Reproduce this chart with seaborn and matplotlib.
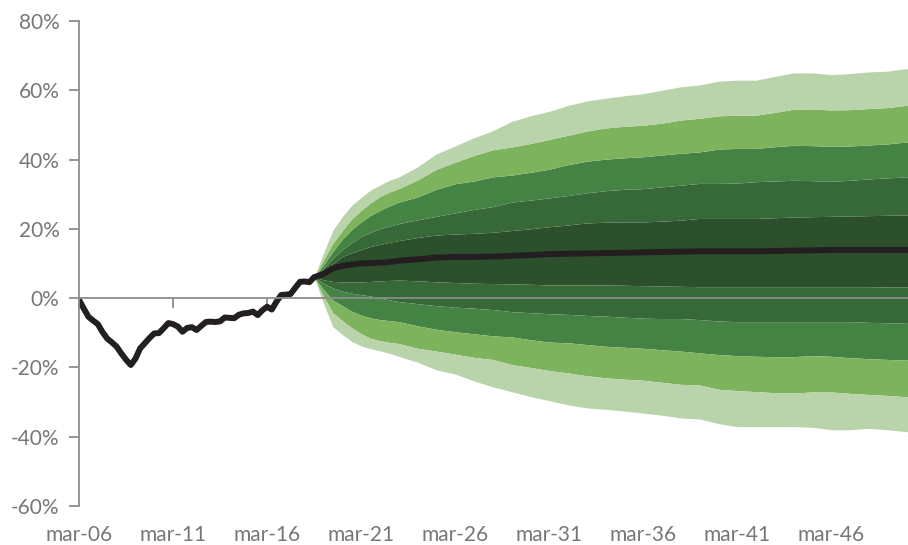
import matplotlib
matplotlib.use("Agg")
import matplotlib.pyplot as plt
import seaborn as sns
import pandas as pd

# historical series, quarterly from mar-06 (%)
hist_start = "2006-03-01"
hist_values = [-0.5, -3.0, -5.4, -6.5, -7.5, -9.8, -11.7, -12.8, -14.0, -16.0,
               -17.8, -19.3, -17.5, -14.5, -13.0, -11.5, -10.2, -10.1, -8.7, -7.2,
               -7.5, -8.2, -9.7, -8.6, -8.4, -9.2, -8.0, -6.9, -6.8, -6.9,
               -6.7, -5.6, -5.7, -5.8, -4.8, -4.4, -4.3, -3.9, -4.9, -3.5,
               -2.5, -3.3, -1.0, 0.9, 1.0, 1.2, 3.0, 4.7, 4.8, 4.6, 6.0]

# forecast dates
fc_dates = ["2018-09", "2019-03", "2019-09", "2020-03", "2020-09", "2021-03",
            "2021-09", "2022-03", "2022-09", "2023-03", "2024-03", "2025-03",
            "2026-03", "2027-03", "2028-03", "2029-03", "2030-03", "2031-03",
            "2032-03", "2033-03", "2034-03", "2035-03", "2036-03", "2037-03",
            "2038-03", "2039-03", "2040-03", "2041-03", "2042-03", "2043-03",
            "2044-03", "2045-03", "2046-03", "2047-03", "2048-03", "2049-03",
            "2050-04"]

median = [6.0, 7.0, 8.6, 9.3, 9.7, 10.0, 10.1, 10.2, 10.4, 10.8, 11.2, 11.7,
          11.9, 11.9, 12.0, 12.2, 12.4, 12.7, 12.8, 12.9, 13.0, 13.1, 13.2, 13.3,
          13.4, 13.5, 13.5, 13.5, 13.5, 13.6, 13.7, 13.8, 13.9, 13.9, 13.9, 13.9,
          13.9]

# upper bounds (inner -> outer)
up0 = [6.0, 7.8, 10.0, 12.0, 13.1, 14.0, 14.9, 15.5, 16.1, 16.6, 17.5, 18.2,
       18.5, 18.7, 19.0, 19.5, 20.0, 20.6, 21.1, 21.7, 21.9, 22.0, 22.0, 22.2,
       22.5, 23.0, 23.0, 23.0, 23.0, 23.2, 23.4, 23.5, 23.6, 23.7, 23.8, 23.9,
       24.0]
up1 = [6.0, 8.5, 11.5, 14.0, 16.0, 17.8, 19.0, 20.0, 20.8, 21.5, 22.6, 23.6,
       24.6, 25.6, 26.4, 27.7, 28.3, 28.9, 29.6, 30.4, 31.0, 31.4, 31.6, 32.1,
       32.6, 33.1, 33.1, 33.2, 33.6, 33.8, 34.0, 33.9, 33.7, 34.0, 34.4, 34.7,
       35.0]
up2 = [6.0, 9.5, 13.5, 17.0, 19.8, 22.0, 23.9, 25.3, 26.6, 27.7, 29.2, 31.4,
       33.0, 33.8, 35.0, 35.5, 36.3, 37.2, 38.5, 39.5, 40.1, 40.5, 40.8, 41.3,
       41.8, 42.2, 43.0, 43.2, 43.2, 43.7, 44.1, 44.0, 43.8, 43.9, 44.2, 44.5,
       45.1]
up3 = [6.0, 11.0, 15.9, 19.5, 22.9, 25.3, 27.5, 29.3, 30.6, 31.6, 34.1, 37.2,
       39.2, 41.2, 42.8, 43.6, 44.6, 45.8, 47.0, 48.2, 49.1, 49.6, 49.9, 50.5,
       51.4, 51.9, 52.6, 52.8, 52.8, 53.6, 54.5, 54.6, 54.3, 54.4, 54.7, 55.0,
       55.7]
up4 = [6.0, 13.0, 19.6, 23.5, 26.8, 29.0, 31.2, 32.6, 34.0, 34.9, 37.9, 41.6,
       43.9, 46.3, 48.3, 51.0, 52.6, 53.9, 55.6, 56.9, 57.7, 58.4, 59.0, 60.0,
       61.0, 61.5, 62.6, 62.9, 62.9, 64.0, 65.0, 65.0, 64.5, 64.8, 65.3, 65.5,
       66.3]

# lower bounds (inner -> outer)
lo0 = [6.0, 5.3, 4.8, 4.7, 4.7, 4.7, 4.8, 5.0, 5.1, 5.2, 5.0, 4.7,
       4.5, 4.3, 4.2, 4.1, 4.0, 3.8, 3.8, 3.8, 3.8, 3.7, 3.6, 3.5,
       3.4, 3.3, 3.3, 3.3, 3.3, 3.3, 3.3, 3.3, 3.3, 3.3, 3.3, 3.2,
       3.2]
lo1 = [6.0, 4.3, 2.9, 2.0, 1.4, 1.0, 0.6, 0.0, -0.5, -1.0, -1.6, -2.2,
       -2.6, -2.9, -3.3, -3.9, -4.2, -4.5, -4.7, -5.0, -5.2, -5.5, -5.8, -5.9,
       -5.9, -6.2, -6.6, -6.8, -6.8, -6.8, -6.8, -6.8, -6.8, -6.8, -7.0, -7.1,
       -7.3]
lo2 = [6.0, 2.5, -0.6, -2.2, -3.8, -4.9, -5.7, -6.2, -6.5, -6.8, -8.0, -9.0,
       -9.7, -10.3, -10.9, -11.2, -12.0, -12.7, -12.9, -13.4, -13.9, -14.2, -14.5, -14.9,
       -15.3, -15.8, -16.3, -16.6, -16.8, -16.9, -16.9, -16.6, -16.8, -17.2, -17.5, -17.7,
       -17.9]
lo3 = [6.0, 0.5, -4.3, -6.5, -8.6, -10.3, -11.6, -12.3, -12.8, -13.1, -14.5, -15.3,
       -16.2, -17.1, -17.7, -19.2, -20.0, -20.9, -21.6, -22.4, -23.0, -23.4, -23.7, -24.3,
       -24.9, -25.1, -26.3, -26.7, -27.0, -27.3, -27.4, -27.1, -27.1, -27.5, -27.8, -28.1,
       -28.5]
lo4 = [6.0, -1.5, -8.3, -10.5, -12.5, -13.8, -14.6, -15.2, -15.9, -16.8, -18.5, -20.7,
       -21.9, -23.9, -25.6, -27.0, -28.4, -29.6, -30.8, -31.7, -32.1, -32.6, -33.2, -33.8,
       -34.6, -34.9, -36.2, -37.1, -37.1, -37.1, -37.1, -37.3, -38.0, -38.0, -37.6, -38.0,
       -38.6]

band_colors = ["#2c4f2c", "#376837", "#458345", "#7eb35d", "#b9d3ab"]

tick_years = [2006, 2011, 2016, 2021, 2026, 2031, 2036, 2041, 2046]
tick_labels = ["mar-%02d" % (y % 100) for y in tick_years]
y_ticks = [-60, -40, -20, 0, 20, 40, 60, 80]

hist = pd.DataFrame({
    "fecha": pd.date_range(hist_start, periods=len(hist_values), freq="3MS"),
    "valor": hist_values,
})
fc = pd.DataFrame({"fecha": pd.to_datetime(fc_dates), "valor": median})

sns.set_style("white")
plt.rcParams["font.family"] = ["Lato", "DejaVu Sans"]

fig = plt.figure(figsize=(9.08, 5.45), dpi=100)
ax = fig.add_axes([0.087, 0.0716, 0.913, 0.89])

uppers = [up0, up1, up2, up3, up4]
lowers = [lo0, lo1, lo2, lo3, lo4]
inner_up = median
inner_lo = median
for c, u, l in zip(band_colors, uppers, lowers):
    ax.fill_between(fc["fecha"], inner_up, u, color=c, lw=0)
    ax.fill_between(fc["fecha"], l, inner_lo, color=c, lw=0)
    inner_up, inner_lo = u, l

line_kw = dict(color="#231f20", lw=4.3, solid_joinstyle="round", solid_capstyle="round")
sns.lineplot(data=hist, x="fecha", y="valor", ax=ax, **line_kw)
sns.lineplot(data=fc, x="fecha", y="valor", ax=ax, **line_kw)

grey = "#8c8c8c"
ax.set_ylim(-60, 80)
ax.set_xlim(pd.Timestamp("2006-03-01"), pd.Timestamp("2050-04-01"))
ax.set_yticks(y_ticks)
ax.set_yticklabels(["%d%%" % v for v in y_ticks])
ax.set_xlabel("")
ax.set_ylabel("")

for s in ["top", "right"]:
    ax.spines[s].set_visible(False)
ax.spines["left"].set_color(grey)
ax.spines["left"].set_linewidth(1.3)
ax.spines["bottom"].set_position(("data", 0))
ax.spines["bottom"].set_color(grey)
ax.spines["bottom"].set_linewidth(1.3)

tick_pos = [pd.Timestamp("%d-03-01" % y) for y in tick_years]
ax.set_xticks(tick_pos)
ax.tick_params(axis="x", direction="out", length=7, width=1.3, color=grey,
               labelbottom=False, bottom=True)
ax.tick_params(axis="y", direction="out", length=7, width=1.3, color=grey,
               labelsize=15, labelcolor="#777777", pad=7, left=True)

sec = ax.secondary_xaxis(0)
sec.set_xticks(tick_pos)
sec.set_xticklabels(tick_labels)
sec.spines["bottom"].set_visible(False)
sec.tick_params(axis="x", length=0, pad=14, labelsize=15, labelcolor="#777777")

fig.savefig("out.png", dpi=100)
